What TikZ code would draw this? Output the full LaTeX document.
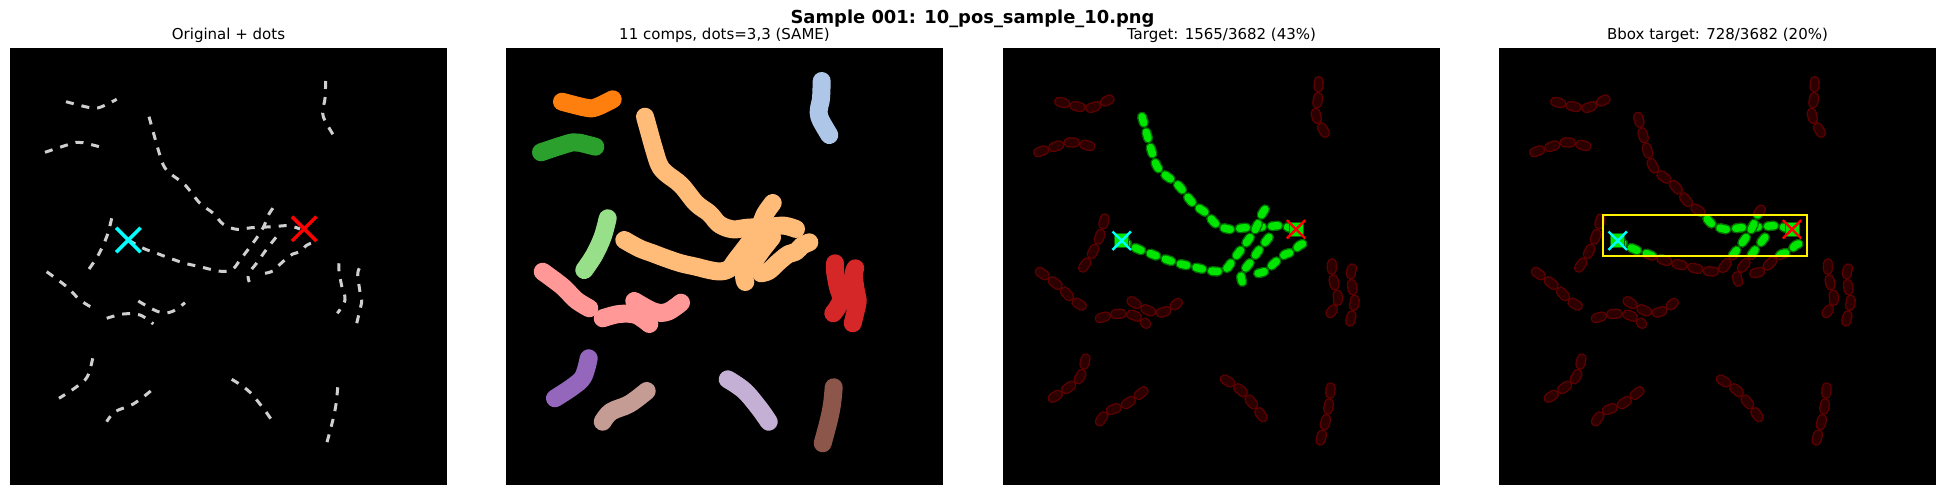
\documentclass[tikz,border=0pt]{standalone}
\usepackage{fontspec}
\setmainfont{DejaVu Sans}
\usetikzlibrary{shapes.misc}
\definecolor{dashgray}{HTML}{CFCFCF}
\definecolor{tOrange}{HTML}{FF7F0E}
\definecolor{tGreen}{HTML}{2CA02C}
\definecolor{tLOrange}{HTML}{FFBB78}
\definecolor{tLBlue}{HTML}{AEC7E8}
\definecolor{tLGreen}{HTML}{98DF8A}
\definecolor{tPink}{HTML}{FF9896}
\definecolor{tRed}{HTML}{D62728}
\definecolor{tPurple}{HTML}{9467BD}
\definecolor{tLBrown}{HTML}{C49C94}
\definecolor{tLav}{HTML}{C5B0D5}
\definecolor{tBrown}{HTML}{8C564B}
\definecolor{tgtfill}{HTML}{00E600}
\definecolor{tgtout}{HTML}{006A00}
\definecolor{dimfill}{HTML}{2C0000}
\definecolor{dimout}{HTML}{5E0000}
\definecolor{cyanx}{HTML}{00FFFF}
\definecolor{redx}{HTML}{FF0000}

\newcommand\othercomps{%
\draw[kA] plot[smooth,tension=0.6] coordinates {(56,53.7)(80,59.7)(90,59.3)(106.7,51.3)};
\draw[kB] plot[smooth,tension=0.6] coordinates {(35,104.3)(51.7,98.7)(66.7,94.3)(73.3,94.7)(89.3,98.7)};
\draw[kC] plot[smooth,tension=0.6] coordinates {(315.7,33)(315,50.3)(313.3,58.7)(312.7,65.3)(315,72.7)(323.3,87)};
\draw[kD] plot[smooth,tension=0.6] coordinates {(101.7,170.3)(96.7,188.7)(88.3,207)(78.3,222)};
\draw[kE] plot[smooth,tension=0.6] coordinates {(36.7,223.7)(56.7,238.7)(70,252)(83.3,260.3)};
\draw[kE] plot[smooth,tension=0.6] coordinates {(96.7,270.3)(113.3,266)(130,267)(143.3,276)};
\draw[kE] plot[smooth,tension=0.6] coordinates {(128.3,253)(148.3,263.7)(161.7,263.7)(175,254.7)};
\draw[kF] plot[smooth,tension=0.6] coordinates {(329,215.3)(329,222.7)(331.7,238)(335,252)(327.3,265.3)};
\draw[kF] plot[smooth,tension=0.6] coordinates {(349.3,220.3)(347.7,227)(350,243.7)(351.7,252)(350.7,258.7)(346.7,275.3)};
\draw[kG] plot[smooth,tension=0.6] coordinates {(82.7,310.3)(77.3,328.7)(66.7,338.7)(49,350.3)};
\draw[kH] plot[smooth,tension=0.6] coordinates {(140.7,343)(123.3,356)(105,363.7)(96.7,373.7)};
\draw[kI] plot[smooth,tension=0.6] coordinates {(221.7,331.3)(238.3,342.7)(253.3,360.3)(262.7,373.7)};
\draw[kJ] plot[smooth,tension=0.6] coordinates {(327.7,339.3)(326,356.3)(322.7,372.7)(316.7,395.3)};
}
\newcommand\targetcomps{%
\draw[kT] plot[smooth,tension=0.6] coordinates {(139,68.7)(142.7,82)(148.3,102)(153.3,117)(160,125.3)(175,137)(190,155.3)(203.3,165.3)(213.3,176.3)(226.7,181.3)(241.7,179.7)(263.3,178.7)(278.3,177.7)(290,181)};
\draw[kT] plot[smooth,tension=0.6] coordinates {(118.3,192)(133.3,200.3)(146.7,205.3)(160,210.3)(175,215.3)(190,218.7)(203.3,222)(214,223.5)(223,221)(230,212)(240,199)(248,188)(254,178)(259,166)(266.7,155)};
\draw[kT] plot[smooth,tension=0.6] coordinates {(266,189.3)(256,202)(247.3,214.3)(238.5,226)(239.3,234)};
\draw[kT] plot[smooth,tension=0.6] coordinates {(255,225.3)(262.7,223)(270,216.3)(276,211)(282.7,206)(290,203.7)(296,197.7)(303.3,194.3)};
}

\tikzset{
  dashline/.style={draw=dashgray, line width=3, dash pattern=on 8 off 8},
  blob/.style={line width=18, line cap=round, line join=round},
  tgt/.style={draw=tgtout, double=tgtfill, line width=1.4, double distance=7.4, dash pattern=on 6.5 off 9.5, line cap=round},
  dim/.style={draw=dimout, double=dimfill, line width=1.4, double distance=7.4, dash pattern=on 6.5 off 9.5, line cap=round},
  allk/.style={kA/.style={#1},kB/.style={#1},kC/.style={#1},kD/.style={#1},kE/.style={#1},kF/.style={#1},kG/.style={#1},kH/.style={#1},kI/.style={#1},kJ/.style={#1}},
  paneltitle/.style={anchor=base, font=\fontsize{15}{18}\selectfont, text=black, inner sep=0},
  bigx/.style={cross out, draw=#1, line width=3.5, minimum size=21, inner sep=0},
  smallx/.style={cross out, draw=#1, line width=2.4, minimum size=16, inner sep=0},
  dotsq/.style={rectangle, fill=tgtfill, draw=tgtout, line width=1, minimum size=14, inner sep=0},
}

\begin{document}
\begin{tikzpicture}[x=1pt,y=-1pt]
\useasboundingbox[fill=white] (0,0) rectangle (1945,495);

\node[anchor=base, font=\fontsize{17.9}{21}\selectfont\bfseries, inner sep=0] (maintitle) at (972.5,24) {Sample 001: 10\_pos\_sample\_10.png};

% Panel 1
\node[paneltitle] (t1) at (228.5,40) {Original + dots};
\begin{scope}[shift={(10,48)}, allk={dashline}, kT/.style={dashline}]
  \fill[black] (0,0) rectangle (437,437);
  \othercomps
  \targetcomps
  \node[bigx=cyanx] (c1) at (118.3,192) {};
  \node[bigx=redx] (r1) at (294.2,180.8) {};
\end{scope}

% Panel 2
\node[paneltitle] (t2) at (724.5,40) {11 comps, dots=3,3 (SAME)};
\begin{scope}[shift={(506,48)},
  kA/.style={blob,draw=tOrange}, kB/.style={blob,draw=tGreen},
  kC/.style={blob,draw=tLBlue}, kD/.style={blob,draw=tLGreen},
  kE/.style={blob,draw=tPink}, kF/.style={blob,draw=tRed},
  kG/.style={blob,draw=tPurple}, kH/.style={blob,draw=tLBrown},
  kI/.style={blob,draw=tLav}, kJ/.style={blob,draw=tBrown},
  kT/.style={blob,draw=tLOrange}]
  \fill[black] (0,0) rectangle (437,437);
  \othercomps
  \targetcomps
\end{scope}

% Panel 3
\node[paneltitle] (t3) at (1221.5,40) {Target: 1565/3682 (43\%)};
\begin{scope}[shift={(1003,48)}, allk={dim}, kT/.style={tgt}]
  \fill[black] (0,0) rectangle (437,437);
  \othercomps
  \targetcomps
  \node[dotsq] (s3a) at (118.7,192.7) {};
  \node[dotsq] (s3b) at (293,181.3) {};
  \node[smallx=cyanx] (c3) at (118.7,192.7) {};
  \node[smallx=redx] (r3) at (293,181.3) {};
\end{scope}

% Panel 4
\node[paneltitle] (t4) at (1717.5,40) {Bbox target: 728/3682 (20\%)};
\begin{scope}[shift={(1499,48)}, allk={dim}, kT/.style={dim}]
  \fill[black] (0,0) rectangle (437,437);
  \othercomps
  \targetcomps
  \begin{scope}[kT/.style={tgt}]
    \clip (103.7,167) rectangle (308.3,208);
    \targetcomps
  \end{scope}
  \node[dotsq] (s4a) at (118.7,192.7) {};
  \node[dotsq] (s4b) at (293,181.3) {};
  \node[smallx=cyanx] (c4) at (118.7,192.7) {};
  \node[smallx=redx] (r4) at (293,181.3) {};
  \draw[yellow, line width=2] (103.7,167) rectangle (308.3,208);
\end{scope}
\end{tikzpicture}
\end{document}
